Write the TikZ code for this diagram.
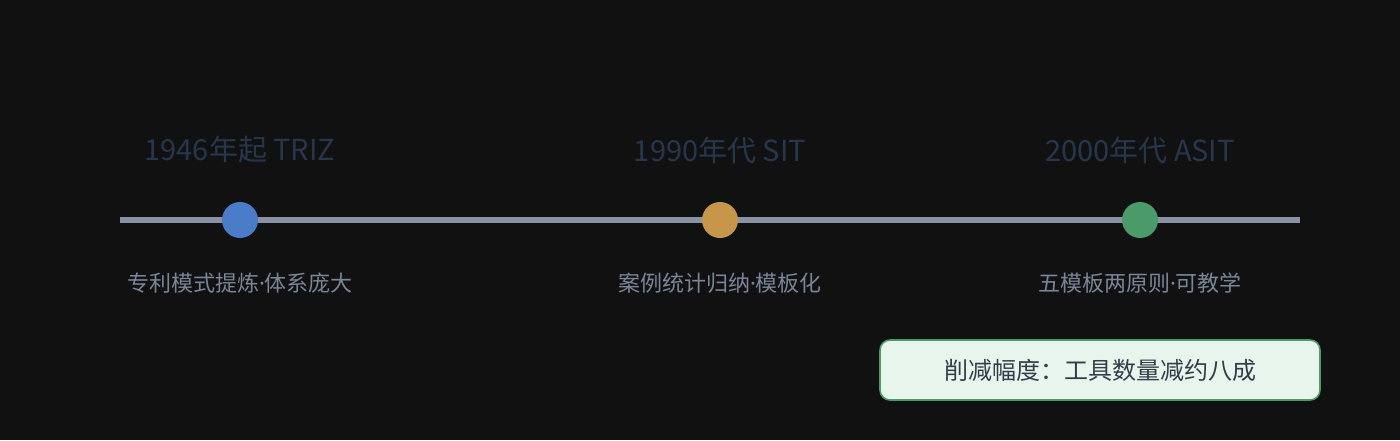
\documentclass[tikz,border=0pt]{standalone}
\usepackage{fontspec}
\setmainfont{Noto Sans CJK SC}
\newfontfamily\dotfont{Noto Sans}
\newcommand{\middot}{{\dotfont ·}}
\usetikzlibrary{positioning}
\definecolor{bgdark}{HTML}{111111}
\definecolor{axisgray}{HTML}{8A93A6}
\definecolor{eraone}{HTML}{4A7CC7}
\definecolor{eratwo}{HTML}{C8964A}
\definecolor{erathree}{HTML}{4A9A6A}
\definecolor{yeartext}{HTML}{26374D}
\definecolor{notetext}{HTML}{7A8598}
\definecolor{boxfill}{HTML}{E8F5EC}
\definecolor{boxtext}{HTML}{333D4A}

\begin{document}
\begin{tikzpicture}[x=0.5pt, y=-0.5pt,
		dot/.style={circle, minimum size=18pt, inner sep=0pt},
		year/.style={text=yeartext, font=\fontsize{14.5}{16}\selectfont},
		note/.style={text=notetext, font=\fontsize{11}{13}\selectfont}]
						\fill[bgdark] (0,0) rectangle (1400,440);
						\useasboundingbox (0,0) rectangle (1400,440);

						\coordinate (ls) at (120,220);
						\coordinate (le) at (1300,220);
						\draw[axisgray, line width=2.6pt] (ls) -- (le);

						\node[dot, fill=eraone] (triz) at (240,220) {};
						\node[dot, fill=eratwo] (sit) at (720,220) {};
						\node[dot, fill=erathree] (asit) at (1140,220) {};

						\node[year] (ytriz) at (240,150) {1946年起 TRIZ};
						\node[year] (ysit) at (720,150) {1990年代 SIT};
						\node[year] (yasit) at (1140,150) {2000年代 ASIT};

						\node[note] (ntriz) at (240,283) {专利模式提炼\middot 体系庞大};
						\node[note] (nsit) at (720,283) {案例统计归纳\middot 模板化};
						\node[note] (nasit) at (1140,283) {五模板两原则\middot 可教学};

						\node[draw=erathree, line width=0.8pt, fill=boxfill,
							rounded corners=5pt,
							minimum width=220pt, minimum height=30pt,
							text=boxtext, font=\fontsize{12}{14}\selectfont]
							(cut) at (1100,370) {削减幅度：工具数量减约八成};

					\end{tikzpicture}
\end{document}
